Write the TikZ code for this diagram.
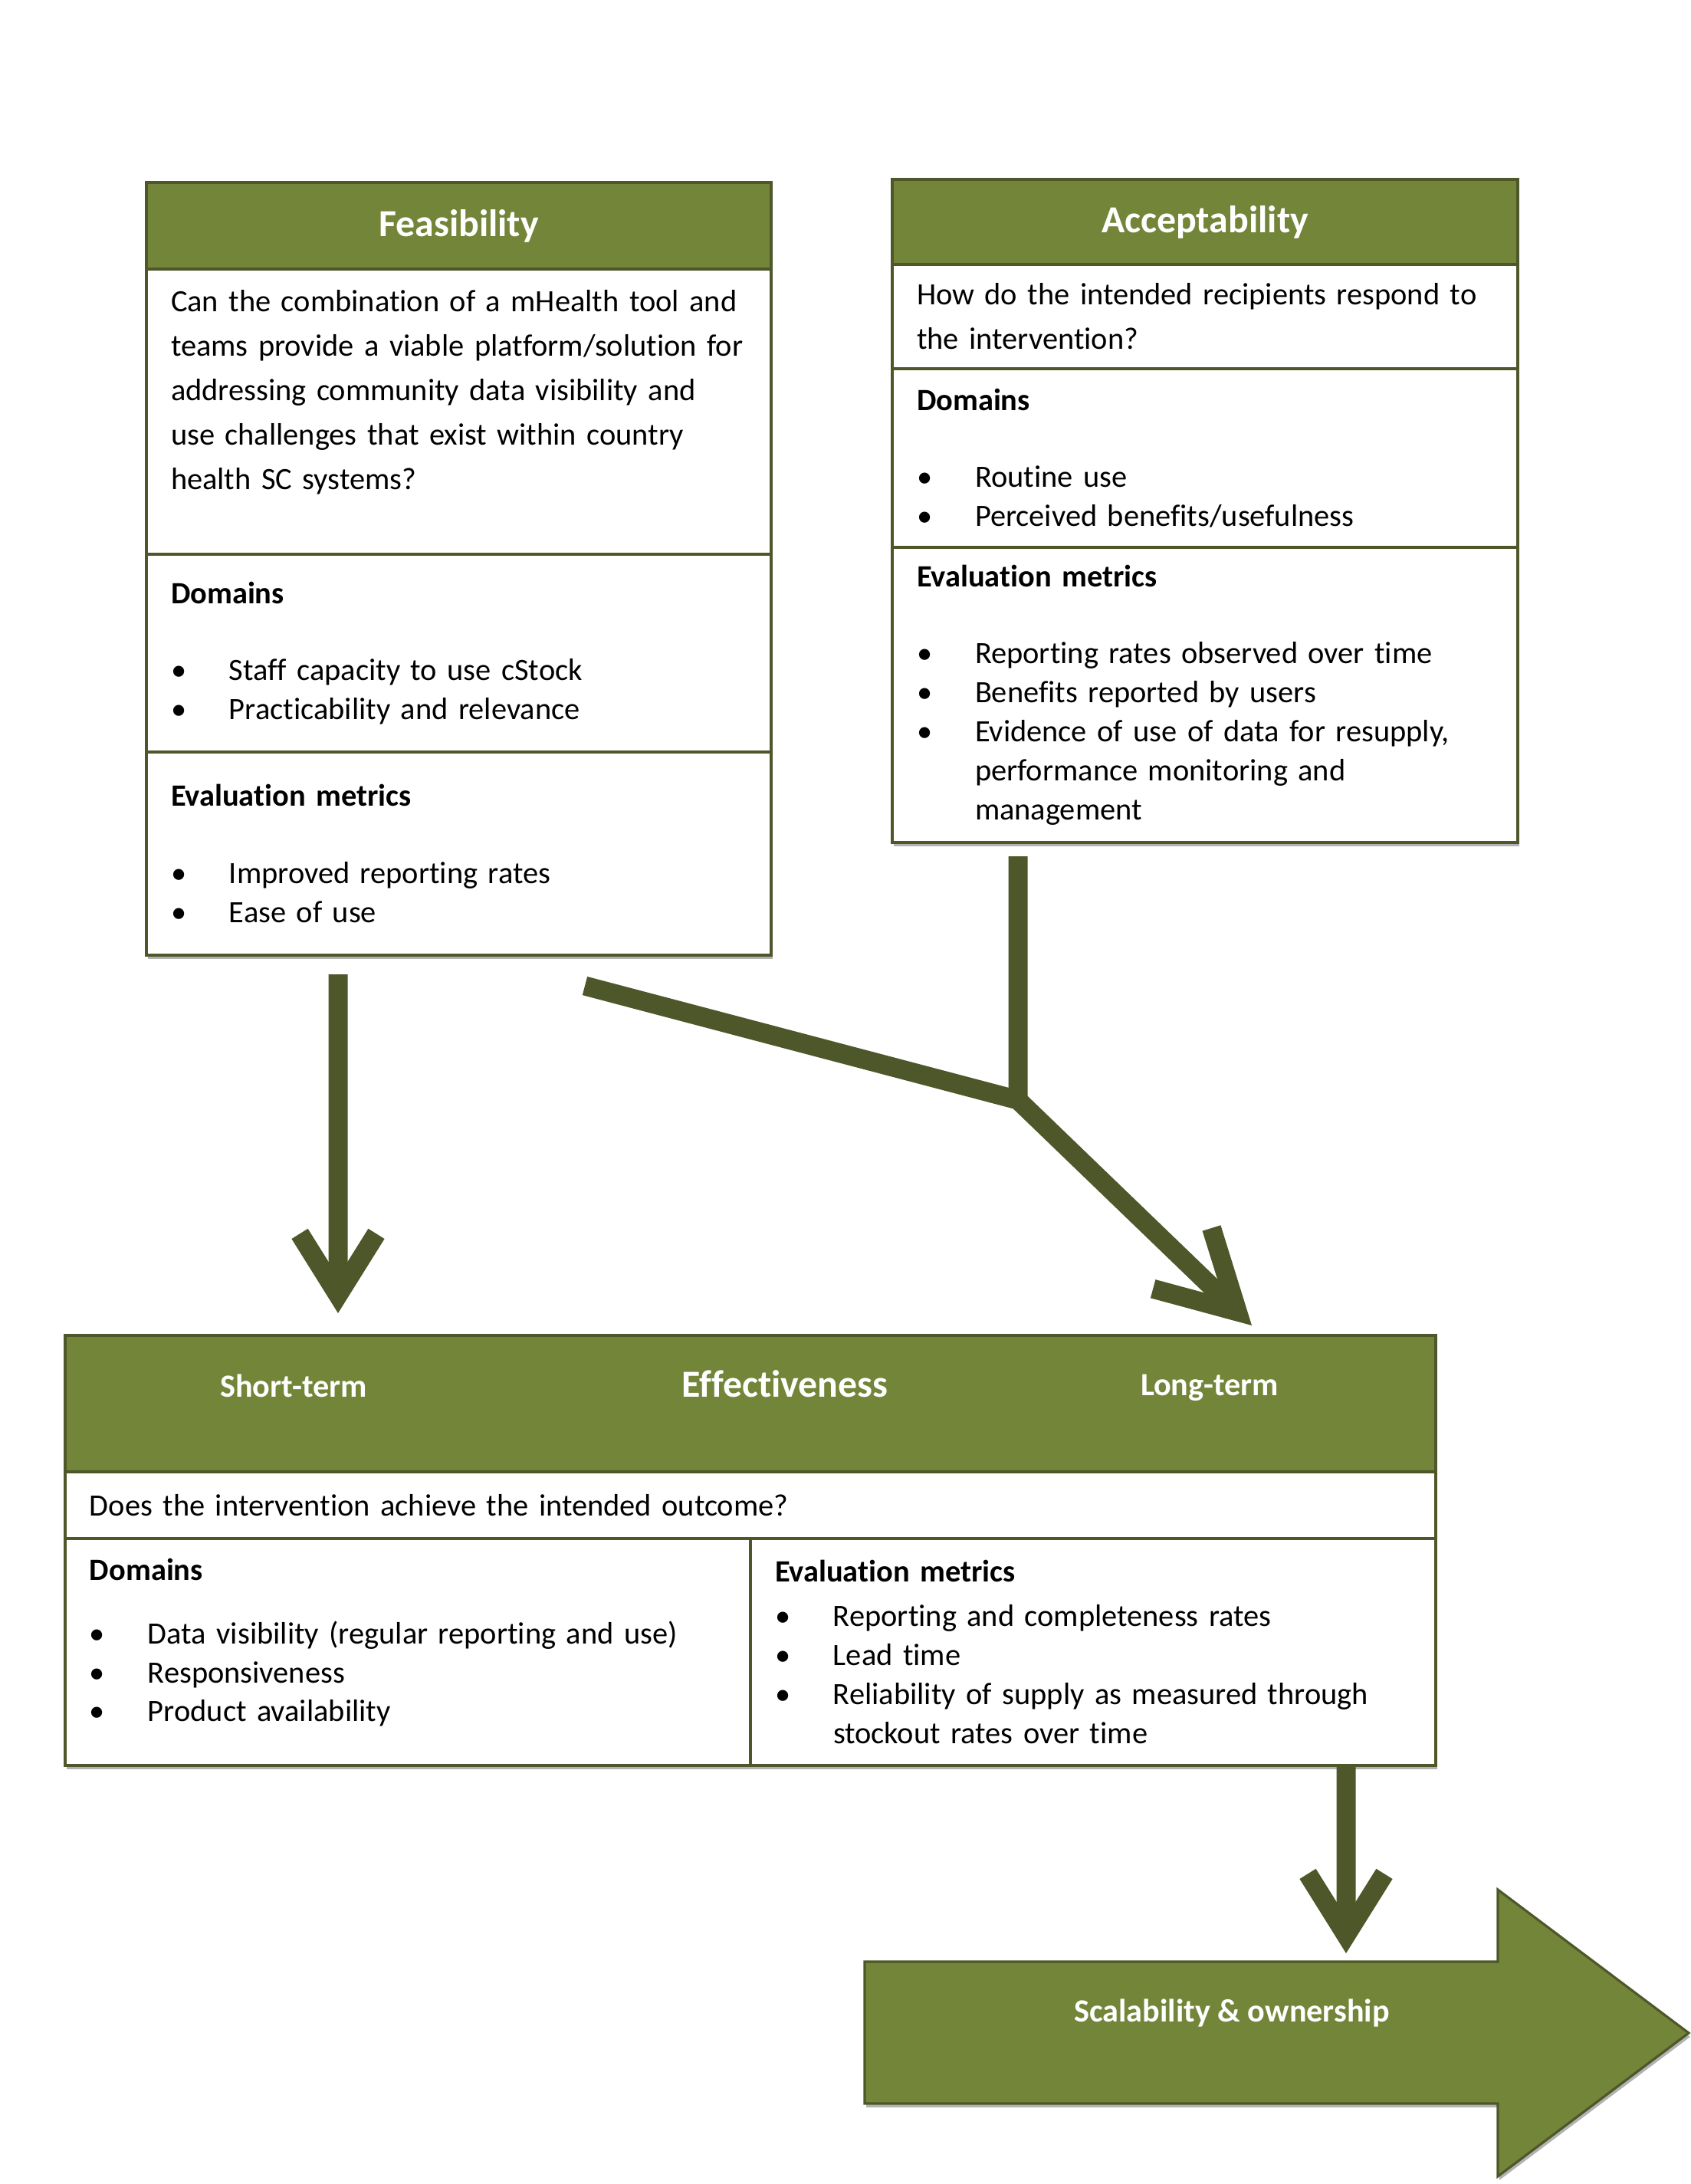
\documentclass[tikz,border=0pt]{standalone}
\usepackage{fontspec}
\setmainfont{Carlito}[Ligatures=NoCommon]
\usetikzlibrary{arrows.meta,positioning,shadows}

\definecolor{olivehead}{RGB}{115,133,56}
\definecolor{oliveline}{RGB}{78,87,42}

\newcommand{\bitem}{\makebox[0.76cm][l]{\textbullet}}
\newcommand{\bcont}{\hspace*{0.76cm}}

\begin{document}
\begin{tikzpicture}[
  head/.style={rectangle, draw=oliveline, fill=olivehead, line width=0.9pt, outer sep=0pt,
               text=white, font=\fontsize{14.2}{17}\selectfont\bfseries, inner sep=0pt},
  cell/.style={rectangle, draw=oliveline, fill=white, line width=0.9pt, outer sep=0pt,
               align=left, inner xsep=0.32cm, inner ysep=0pt,
               font=\fontsize{11.5}{14.5}\selectfont},
  qcell/.style={cell, font=\fontsize{11.5}{16.5}\selectfont},
  lbl/.style={text=white, font=\fontsize{12}{14}\selectfont\bfseries},
  shade/.style={general shadow={fill=black!30, shadow xshift=0.02cm, shadow yshift=-0.05cm}},
  flow/.style={draw=oliveline, line width=0.25cm, line join=bevel,
               -{Straight Barb[length=0.8cm,width=1.0cm]}},
  bigflow/.style={flow, -{Straight Barb[length=1.0cm,width=1.1cm]}},
  link/.style={draw=oliveline, line width=0.25cm}
]
\useasboundingbox (0,0) rectangle (22.05,-28.49);

% Feasibility
\node[head, minimum width=8.15cm, minimum height=1.13cm] (feas) at (5.985,-2.945) {Feasibility};
\node[qcell, text width=7.51cm, minimum height=3.72cm, below=0cm of feas] (feasq)
  {Can the combination of a mHealth tool and\\
   teams provide a viable platform/solution for\\
   addressing community data visibility and\\
   use challenges that exist within country\\
   health SC systems?\\ \mbox{}};
\node[cell, text width=7.51cm, minimum height=2.58cm, below=0cm of feasq] (feasd)
  {\textbf{Domains}\\[14pt]
   \bitem Staff capacity to use cStock\\
   \bitem Practicability and relevance};
\node[cell, shade, text width=7.51cm, minimum height=2.65cm, below=0cm of feasd] (feasm)
  {\textbf{Evaluation metrics}\\[14pt]
   \bitem Improved reporting rates\\
   \bitem Ease of use};

% Acceptability
\node[head, minimum width=8.16cm, minimum height=1.11cm] (acc) at (15.72,-2.895) {Acceptability};
\node[qcell, text width=7.52cm, minimum height=1.36cm, below=0cm of acc] (accq)
  {How do the intended recipients respond to\\
   the intervention?};
\node[cell, text width=7.52cm, minimum height=2.33cm, below=0cm of accq] (accd)
  {\textbf{Domains}\\[14pt]
   \bitem Routine use\\
   \bitem Perceived benefits/usefulness};
\node[cell, shade, text width=7.52cm, minimum height=3.85cm, below=0cm of accd] (accm)
  {\textbf{Evaluation metrics}\\[14pt]
   \bitem Reporting rates observed over time\\
   \bitem Benefits reported by users\\
   \bitem Evidence of use of data for resupply,\\
   \bcont performance monitoring and\\
   \bcont management};

% Effectiveness
\node[head, minimum width=17.88cm, minimum height=1.78cm] (effh) at (9.79,-18.31) {};
\node[lbl] (shortl) at ([xshift=-5.96cm,yshift=0.23cm]effh.center) {Short-term};
\node[lbl, font=\fontsize{14.2}{17}\selectfont\bfseries] (efft) at ([xshift=0.45cm,yshift=0.26cm]effh.center) {Effectiveness};
\node[lbl] (longl) at ([xshift=5.99cm,yshift=0.21cm]effh.center) {Long-term};
\node[qcell, text width=17.24cm, minimum height=0.87cm, below=0cm of effh] (effq)
  {Does the intervention achieve the intended outcome?};
\node[cell, shade, text width=8.30cm, minimum height=2.96cm, below right=0cm and 0cm of effq.south west] (effd)
  {\textbf{Domains}\\[9pt]
   \bitem Data visibility (regular reporting and use)\\
   \bitem Responsiveness\\
   \bitem Product availability\\[-0.2cm] \mbox{}};
\node[cell, shade, text width=8.30cm, minimum height=2.96cm, right=0cm of effd] (effm)
  {\textbf{Evaluation metrics}\\[2pt]
   \bitem Reporting and completeness rates\\
   \bitem Lead time\\
   \bitem Reliability of supply as measured through\\
   \bcont stockout rates over time};

% Scalability arrow
\draw[draw=oliveline, fill=olivehead, line width=0.9pt, shade]
  (11.28,-25.59) -- (19.54,-25.59) -- (19.54,-24.65) -- (22.03,-26.52)
  -- (19.54,-28.39) -- (19.54,-27.44) -- (11.28,-27.44) -- cycle;
\node[lbl] (scal) at (16.07,-26.26) {Scalability \& ownership};
\coordinate (scaltop) at (17.56,-25.48);

% Connectors
\coordinate (j) at (13.28,-14.35);
\draw[flow] ([xshift=-1.575cm,yshift=-0.25cm]feasm.south) -- ([xshift=-5.38cm,yshift=0.29cm]effh.north);
\draw[link] ([xshift=-2.44cm,yshift=-0.18cm]accm.south) -- (j);
\draw[bigflow] ([xshift=1.645cm,yshift=-0.40cm]feasm.south) -- (j) -- ([xshift=6.54cm,yshift=0.13cm]effh.north);
\draw[flow] ([xshift=3.30cm]effm.south) -- (scaltop);
\end{tikzpicture}
\end{document}
